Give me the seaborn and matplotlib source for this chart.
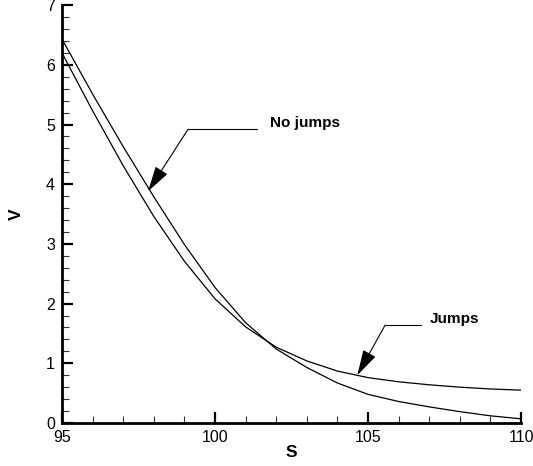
import matplotlib
matplotlib.use("Agg")
import matplotlib.pyplot as plt
import numpy as np
import pandas as pd
import seaborn as sns
from matplotlib.ticker import MultipleLocator

# values
s_vals = [95, 96, 97, 98, 99, 100, 101, 102, 103, 104, 105, 106, 107, 108, 109, 110]
v_no_jumps = [6.43, 5.51, 4.63, 3.79, 2.99, 2.27, 1.68, 1.24, 0.93, 0.67, 0.48, 0.36, 0.27, 0.19, 0.12, 0.07]
v_jumps = [6.20, 5.23, 4.31, 3.46, 2.71, 2.08, 1.61, 1.27, 1.04, 0.87, 0.76, 0.69, 0.64, 0.60, 0.57, 0.55]

df = pd.DataFrame({
    'S': s_vals * 2,
    'V': v_no_jumps + v_jumps,
    'model': ['No jumps'] * len(s_vals) + ['Jumps'] * len(s_vals),
})

sns.set_theme(style='ticks')
plt.rcParams['font.family'] = ['Liberation Sans', 'DejaVu Sans']
plt.rcParams['text.color'] = 'black'
plt.rcParams['axes.labelcolor'] = 'black'

fig = plt.figure(figsize=(5.33, 4.66), dpi=100)
ax = fig.add_axes([0.1163, 0.0923, 0.8612, 0.8967])

sns.lineplot(data=df, x='S', y='V', hue='model', palette={'No jumps': 'black', 'Jumps': 'black'},
             linewidth=0.9, legend=False, ax=ax)

ax.set_xlim(95, 110)
ax.set_ylim(0, 7)
ax.xaxis.set_major_locator(MultipleLocator(5))
ax.xaxis.set_minor_locator(MultipleLocator(1))
ax.yaxis.set_major_locator(MultipleLocator(1))
ax.yaxis.set_minor_locator(MultipleLocator(0.2))
ax.tick_params(which='major', direction='in', length=8, width=1.6, labelsize=11.5, pad=5,
               colors='black', labelcolor='black')
ax.tick_params(which='minor', direction='in', length=5, width=0.8, colors='#333333')
for side in ['top', 'right']:
    ax.spines[side].set_visible(False)
for side in ['left', 'bottom']:
    ax.spines[side].set_linewidth(2.0)
    ax.spines[side].set_color('black')

ax.set_xlabel('S', fontsize=12.5, fontweight='bold', labelpad=0)
ax.set_ylabel('V', fontsize=12.5, fontweight='bold', labelpad=16)

arrow_style = dict(arrowstyle='-|>,head_length=0.8,head_width=0.22', color='black', lw=0.8,
                   mutation_scale=20, shrinkA=0, shrinkB=0)

# leader lines with arrows
ax.plot([101.37, 99.12], [4.92, 4.92], color='black', lw=0.8)
ax.annotate('', xy=(97.81, 3.88), xytext=(99.12, 4.92), arrowprops=arrow_style)
ax.text(101.8, 5.03, 'No jumps', fontsize=11, fontweight='bold', va='center', ha='left', color='black')

ax.plot([106.72, 105.56], [1.64, 1.64], color='black', lw=0.8)
ax.annotate('', xy=(104.65, 0.80), xytext=(105.56, 1.64), arrowprops=arrow_style)
ax.text(107.03, 1.74, 'Jumps', fontsize=11, fontweight='bold', va='center', ha='left', color='black')

fig.savefig('out.png', dpi=100)
